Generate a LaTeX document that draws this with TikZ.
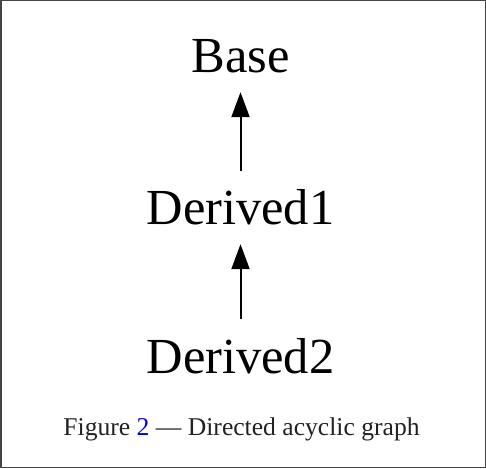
\documentclass[tikz,border=0pt]{standalone}
\usepackage{fontspec}
\setmainfont{Liberation Serif}
\usetikzlibrary{arrows.meta}
\definecolor{framegray}{HTML}{444444}
\definecolor{captiongray}{HTML}{222222}
\definecolor{linkblue}{HTML}{0000EE}
\begin{document}
\begin{tikzpicture}[x=1pt, y=1pt,
    cls/.style={font=\fontsize{50.5}{50.5}\selectfont, anchor=base, inner xsep=0pt,
        inner ysep=19pt, text height=35pt, text depth=0pt},
    inherit/.style={line width=2pt, -{Triangle[length=25pt, width=18pt]}}]
    % Frame
    \draw[framegray, line width=1.5pt] (0.75,0.75) rectangle (485.25,467.25);
    \useasboundingbox (0,0) rectangle (486,468);

    % Classes
    \node[cls] (base) at (240.5,395) {Base};
    \node[cls] (derived1) at (240.5,243) {Derived1};
    \node[cls] (derived2) at (240.5,95) {Derived2};

    % Inheritance
    \draw[inherit] (derived1) -- (base);
    \draw[inherit] (derived2) -- (derived1);

    % Caption
    \node[anchor=base, text=captiongray, font=\fontsize{25.6}{25.6}\selectfont] (caption) at (241.5,33)
        {Figure \textcolor{linkblue}{2} --- Directed acyclic graph};
\end{tikzpicture}
\end{document}
